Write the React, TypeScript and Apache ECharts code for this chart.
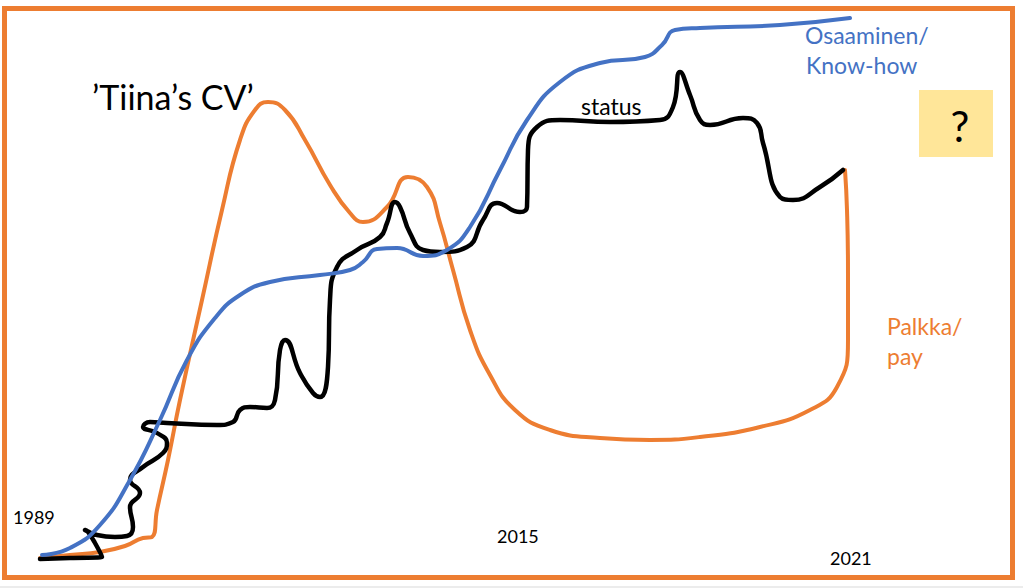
import React, { useEffect, useRef } from "react";
import * as echarts from "echarts";

// Sketch coordinates: x = position along the time line, y = level (bottom = 0)
const H = 588;
const knowHowPts: [number, number][] = [
  [42, 555], [70, 548], [100, 525], [130, 480], [160, 420], [187, 360], [215, 318], [240, 295],
  [270, 282], [320, 275], [350, 270], [363, 262], [377, 249], [397, 248], [423, 256], [447, 250],
  [470, 227], [500, 170], [527, 120], [560, 82], [600, 63], [645, 57], [662, 45], [675, 30],
  [700, 28], [780, 25], [850, 18],
];
const payPts: [number, number][] = [
  [40, 558], [70, 555], [100, 552], [125, 546], [143, 538], [152, 537], [157, 510], [168, 460],
  [180, 400], [202, 300], [222, 210], [240, 140], [255, 110], [268, 102], [285, 110], [305, 140],
  [330, 185], [350, 213], [363, 222], [387, 207], [408, 177], [427, 187], [440, 223], [453, 270],
  [470, 330], [490, 375], [515, 410], [550, 430], [600, 438], [650, 440], [700, 437], [760, 427],
  [810, 410], [837, 387], [848, 340], [848, 273], [847, 210], [845, 170],
];
const statusPts: [number, number][] = [
  [40, 559], [70, 558], [102, 557], [95, 543], [88, 532], [85, 530], [97, 535], [115, 537],
  [127, 536], [133, 527], [130, 507], [140, 493], [130, 480], [143, 467], [163, 453], [167, 443],
  [157, 433], [143, 427], [150, 422], [167, 423], [217, 425], [233, 422], [240, 410], [250, 407],
  [267, 408], [275, 400], [280, 350], [285, 340], [300, 373], [313, 393], [320, 397], [328, 367],
  [330, 300], [337, 267], [357, 250], [380, 237], [387, 223], [395, 202], [400, 207], [410, 233],
  [423, 250], [440, 252], [467, 247], [483, 220], [497, 203], [520, 212], [527, 207], [528, 150],
  [537, 127], [560, 120], [610, 122], [660, 120], [673, 107], [680, 72], [690, 95], [700, 120],
  [710, 125], [743, 118], [757, 123], [763, 143], [780, 197], [793, 200], [820, 187], [843, 170],
];

const toData = (pts: [number, number][]) => pts.map(([x, y]) => [x, H - y]);

const FONT = "Lato, 'Noto Sans', sans-serif";
const BLUE = "#4472C4";
const ORANGE = "#ED7D31";

function txt(text: string, x: number, baseline: number, size: number, color: string) {
  return {
    type: "text",
    x,
    y: baseline - size * 0.32,
    style: {
      text,
      fontSize: size,
      fontFamily: FONT,
      fill: color,
      verticalAlign: "middle",
      align: "left",
    },
    z: 10,
  };
}

export default function App() {
  const ref = useRef<HTMLDivElement>(null);
  useEffect(() => {
    if (!ref.current) return;
    const chart = echarts.init(ref.current, undefined, { renderer: "svg" });
    const line = (name: string, pts: [number, number][], color: string, w: number) => ({
      name,
      type: "line",
      data: toData(pts),
      smooth: 0.5,
      showSymbol: false,
      symbol: "none",
      lineStyle: { color, width: w, cap: "round", join: "round" },
      silent: true,
    });
    chart.setOption({
      animation: false,
      backgroundColor: "#ffffff",
      grid: { left: 0, right: 0, top: 0, bottom: 0 },
      xAxis: { type: "value", min: 0, max: 1023, show: false },
      yAxis: { type: "value", min: 0, max: H, show: false },
      series: [
        line("Palkka/pay", payPts, ORANGE, 4),
        line("status", statusPts, "#000000", 4.5),
        line("Osaaminen/Know-how", knowHowPts, BLUE, 4),
      ],
      graphic: [
        {
          type: "rect",
          shape: { x: 4.5, y: 8.5, width: 1008, height: 569 },
          style: { fill: "none", stroke: ORANGE, lineWidth: 5 },
          z: 1,
        },
        {
          type: "line",
          shape: { x1: 0, y1: 587, x2: 1023, y2: 587 },
          style: { stroke: "#d9d9d9", lineWidth: 1 },
        },
        {
          type: "rect",
          shape: { x: 919, y: 90, width: 74, height: 67 },
          style: { fill: "#FFE699" },
          z: 5,
        },
        {
          type: "text",
          x: 960,
          y: 126,
          style: { text: "?", fontSize: 42, fontFamily: FONT, fill: "#000", align: "center", verticalAlign: "middle" },
          z: 10,
        },
        txt("\u2019Tiina\u2019s CV\u2019", 92, 107, 34, "#000"),
        txt("status", 581, 113, 23, "#000"),
        txt("Osaaminen/", 805, 42, 23, BLUE),
        txt("Know-how", 806, 72, 23, BLUE),
        txt("Palkka/", 887, 333, 23, ORANGE),
        txt("pay", 887, 363, 23, ORANGE),
        txt("1989", 13, 523, 18, "#000"),
        txt("2015", 497, 542, 18, "#000"),
        txt("2021", 830, 564, 18, "#000"),
      ],
    });
    return () => chart.dispose();
  }, []);
  return (
    <div
      ref={ref}
      style={{ position: "fixed", left: 0, top: 0, width: 1023, height: 588, background: "#fff" }}
    />
  );
}
